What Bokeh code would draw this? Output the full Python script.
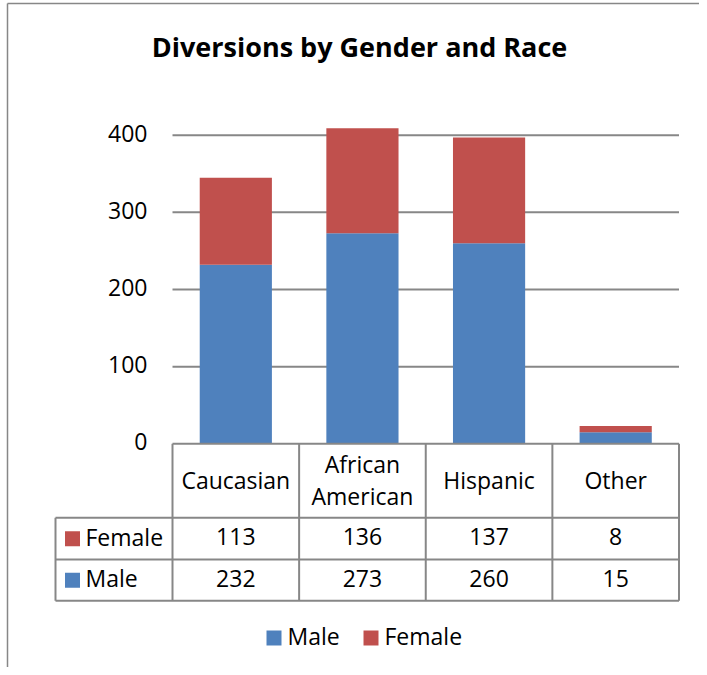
from bokeh.plotting import figure
from bokeh.models import Range1d, ColumnDataSource
from bokeh.embed import file_html
from bokeh.resources import INLINE
from bokeh.core.properties import value

# ---------------- data ----------------
categories = ["Caucasian", "African American", "Hispanic", "Other"]
header_labels = ["Caucasian", "African\nAmerican", "Hispanic", "Other"]
male = [232, 273, 260, 15]
female = [113, 136, 137, 8]
y_ticks = [0, 100, 200, 300, 400]
y_tick_labels = ["0", "100", "200", "300", "400"]
series = ["Male", "Female"]
colors = ["#4F81BD", "#C0504D"]
table_rows = ["Female", "Male"]
table_values = [female, male]
table_colors = ["#C0504D", "#4F81BD"]
title_text = "Diversions by Gender and Race"

FONT = value("Open Sans")
GRAY = "#878787"
FS = "23px"
DY = -2  # small vertical nudge for body texts

# ---------------- layout (pixels) ----------------
W, H = 699, 667
OFF = 0
PX0, PX1 = 172.0, 678.5      # plot area left / right
PY0, PY400 = 443.3, 134.7    # y positions of value 0 and 400
ROW_Y = [443.3, 517.3, 559.0, 600.3]  # table row boundaries
TABLE_LEFT = 55.0

n = len(categories)
sx = (PX1 - PX0) / n
xs = 0 - (PX0 - OFF) / sx
xe = n + (OFF + W - PX1) / sx
sy = (PY0 - PY400) / 400.0
ye = 400 + (PY400 - OFF) / sy
ys = -(OFF + H - PY0) / sy

p = figure(width=W, height=H, x_range=Range1d(xs, xe), y_range=Range1d(ys, ye),
           x_axis_type=None, y_axis_type=None, min_border=0, title=None,
           toolbar_location=None, output_backend="svg", outline_line_color=None)
p.extra_x_ranges = {"px": Range1d(OFF, OFF + W)}
p.extra_y_ranges = {"px": Range1d(OFF + H, OFF)}

# chart border (left and top)
p.segment(x0=[7, 7], x1=[7, OFF + W], y0=[3, 3], y1=[OFF + H, 3],
          x_range_name="px", y_range_name="px", line_color=GRAY, line_width=1.5)

# title
p.text(x=[359], y=[46], text=[title_text], x_range_name="px", y_range_name="px",
       text_font=FONT, text_font_size="27px", text_font_style="bold",
       text_align="center", text_baseline="middle", text_color="black")

# gridlines
p.segment(x0=0, x1=n, y0=y_ticks[1:], y1=y_ticks[1:], line_color=GRAY, line_width=2)

# bars
xc = [i + 0.5 for i in range(n)]
src = ColumnDataSource(dict(x=xc, Male=male, Female=female))
p.vbar_stack(series, x="x", width=0.57, color=colors, source=src, line_color=None)

# y tick labels
p.text(x=[147] * len(y_ticks), y=y_ticks, text=y_tick_labels, x_range_name="px",
       y_offset=DY, text_font=FONT, text_font_size=FS, text_align="right",
       text_baseline="middle", text_color="black")

# table lines
p.segment(x0=0, x1=n, y0=[ROW_Y[0]], y1=[ROW_Y[0]], y_range_name="px",
          line_color=GRAY, line_width=2)
p.segment(x0=[TABLE_LEFT] * 3, x1=[PX1] * 3, y0=ROW_Y[1:], y1=ROW_Y[1:],
          x_range_name="px", y_range_name="px", line_color=GRAY, line_width=2)
p.segment(x0=list(range(n + 1)), x1=list(range(n + 1)), y0=[ROW_Y[0]] * (n + 1),
          y1=[ROW_Y[-1]] * (n + 1), y_range_name="px", line_color=GRAY, line_width=2)
p.segment(x0=[TABLE_LEFT], x1=[TABLE_LEFT], y0=[ROW_Y[1]], y1=[ROW_Y[-1]],
          x_range_name="px", y_range_name="px", line_color=GRAY, line_width=2)

# header labels
hx, hy, ht = [], [], []
hc = (ROW_Y[0] + ROW_Y[1]) / 2 + 1 + DY
for i, lab in enumerate(header_labels):
    lines = lab.split("\n")
    for j, ln in enumerate(lines):
        hx.append(xc[i])
        hy.append(hc + (j - (len(lines) - 1) / 2) * 32)
        ht.append(ln)
p.text(x=hx, y=hy, text=ht, y_range_name="px", text_font=FONT, text_font_size=FS,
       text_align="center", text_baseline="middle", text_color="black")

# table rows
for r, (name, vals, col) in enumerate(zip(table_rows, table_values, table_colors)):
    yc = (ROW_Y[r + 1] + ROW_Y[r + 2]) / 2
    p.text(x=xc, y=[yc + DY] * n, text=[str(v) for v in vals], y_range_name="px",
           text_font=FONT, text_font_size=FS, text_align="center",
           text_baseline="middle", text_color="black")
    p.scatter(x=[72], y=[yc], marker="square", size=15, fill_color=col, line_color=None,
              x_range_name="px", y_range_name="px")
    p.text(x=[85], y=[yc + DY], text=[name], x_range_name="px", y_range_name="px",
           text_font=FONT, text_font_size=FS, text_align="left",
           text_baseline="middle", text_color="black")

# legend
LEG_Y = 637.5
leg_sq_x = [273.5, 370.5]
leg_tx = [287, 384]
for name, col, sqx, tx in zip(series, colors, leg_sq_x, leg_tx):
    p.scatter(x=[sqx], y=[LEG_Y], marker="square", size=15, fill_color=col,
              line_color=None, x_range_name="px", y_range_name="px")
    p.text(x=[tx], y=[LEG_Y + DY], text=[name], x_range_name="px", y_range_name="px",
           text_font=FONT, text_font_size=FS, text_align="left",
           text_baseline="middle", text_color="black")

open("out.html", "w").write(file_html(p, INLINE))
